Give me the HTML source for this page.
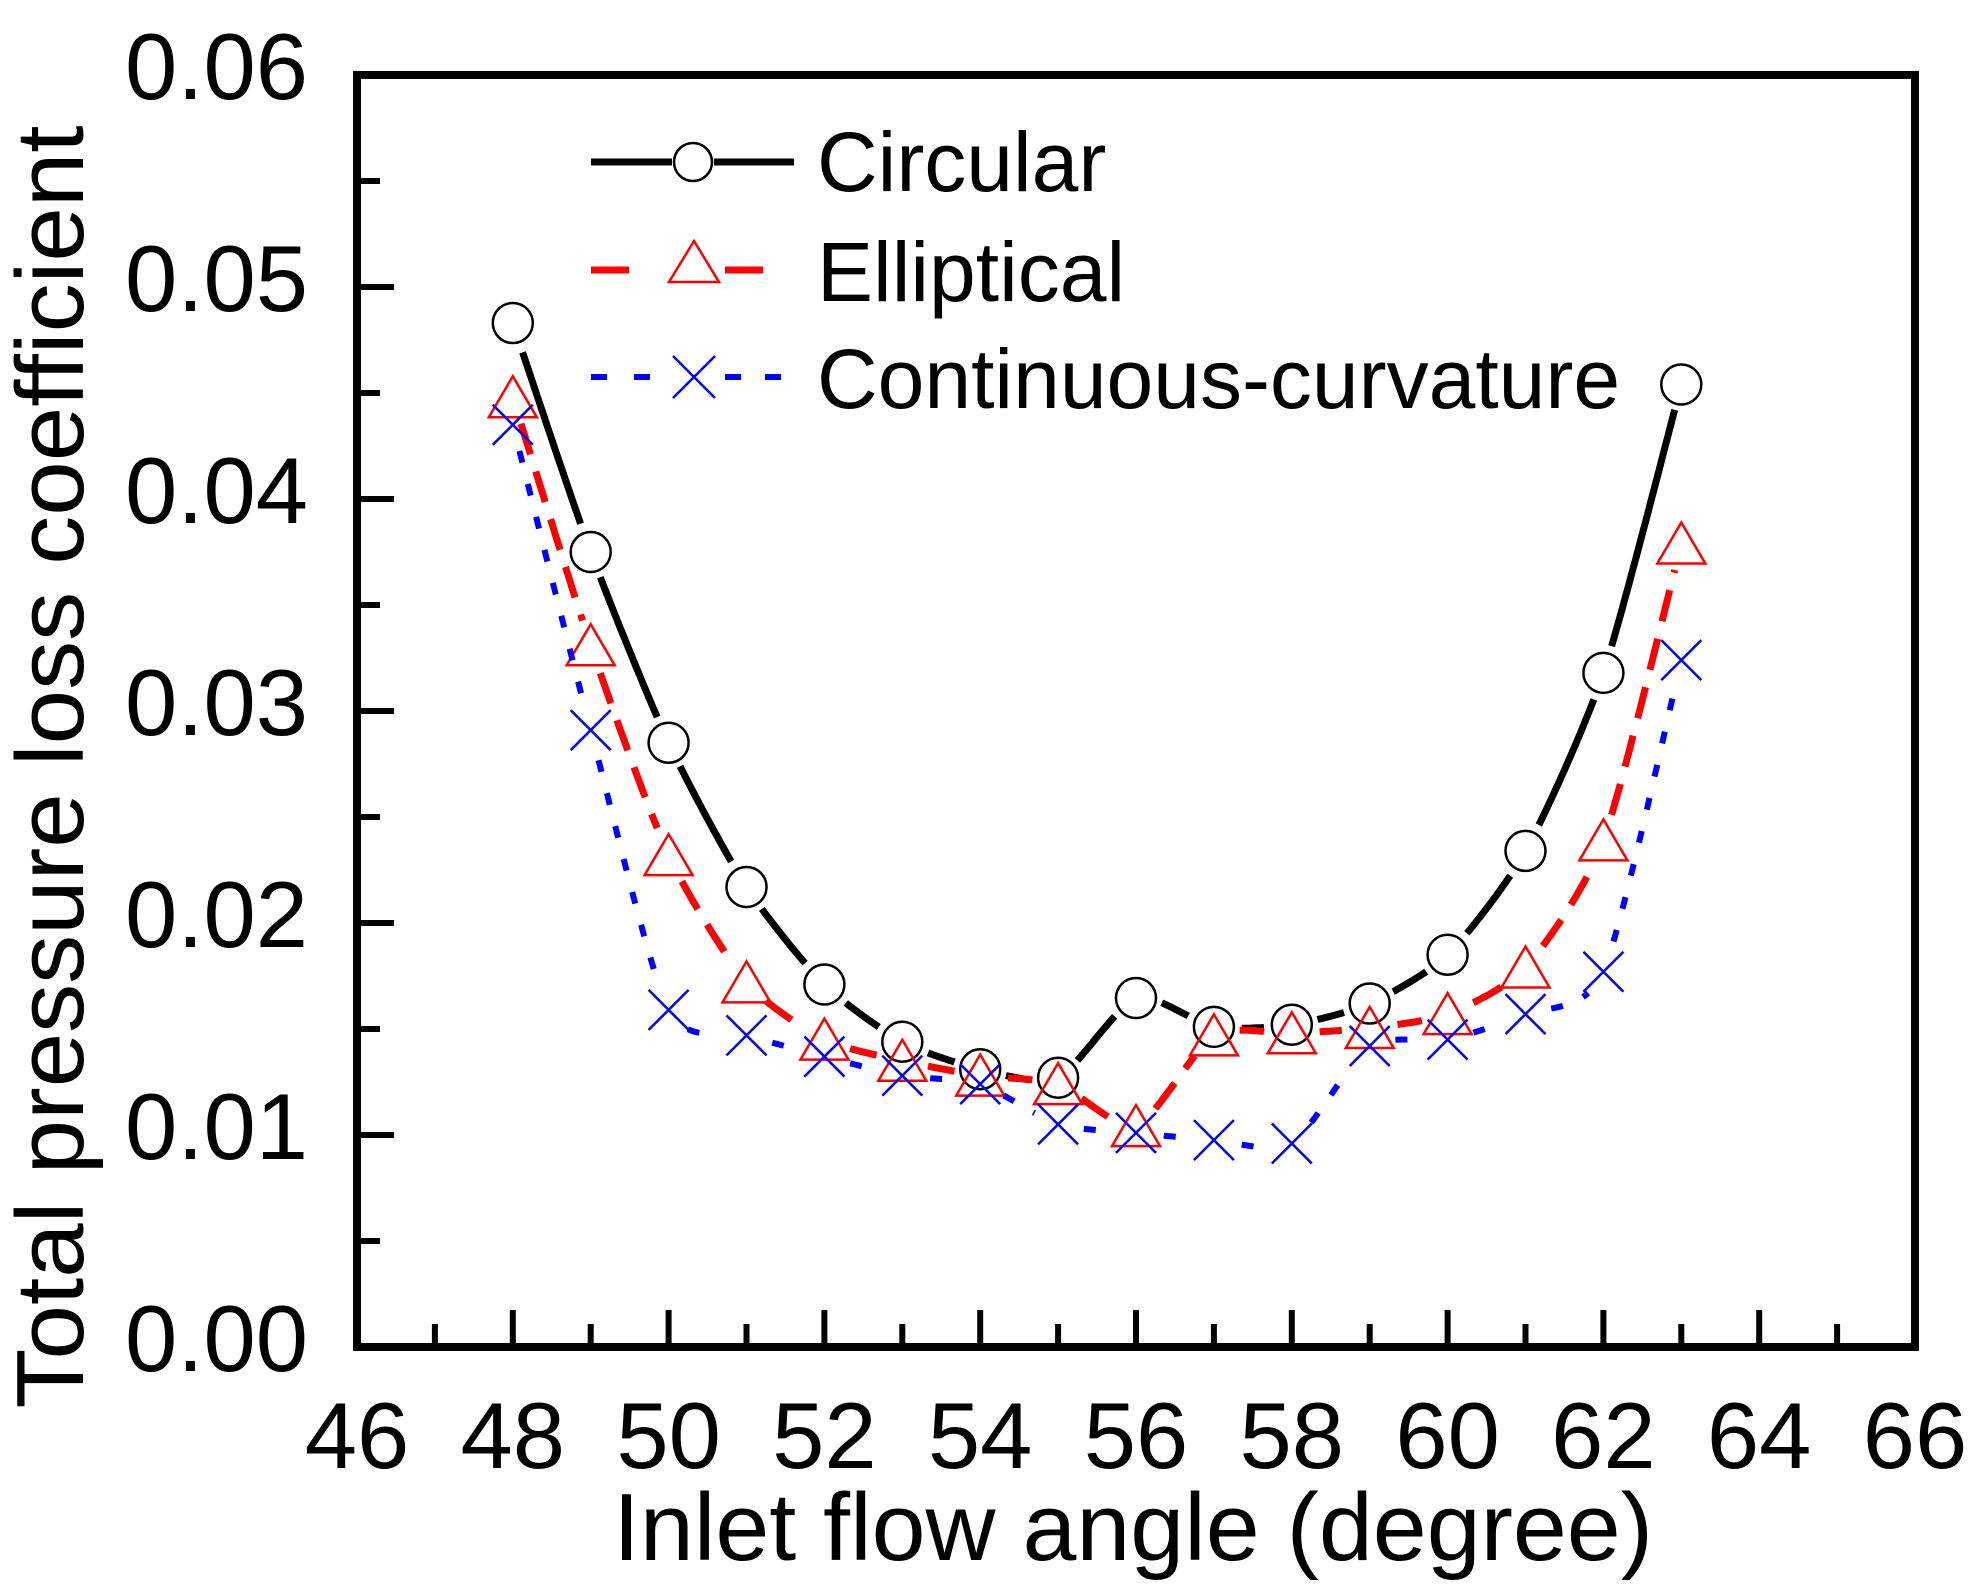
<!DOCTYPE html>
<html><head><meta charset="utf-8"><style>
html,body{margin:0;padding:0;background:#fff;}
svg{display:block;}
text{font-family:"Liberation Sans",Arial,sans-serif;fill:#000;}
</style></head><body>
<svg id="s" width="1972" height="1594" viewBox="0 0 1972 1594" xmlns="http://www.w3.org/2000/svg">
<rect x="0" y="0" width="1972" height="1594" fill="#fff"/>
<g id="series"></g>
<rect x="357" y="75" width="1558" height="1272" fill="none" stroke="#000" stroke-width="8"/>
<g id="ticks" stroke="#000" stroke-width="6"></g>
<g id="labels" font-size="94"></g>
<text x="1133" y="1560" font-size="96" text-anchor="middle" textLength="1040" lengthAdjust="spacingAndGlyphs">Inlet flow angle (degree)</text>
<text transform="translate(83,767) rotate(-90)" font-size="96" text-anchor="middle" textLength="1283" lengthAdjust="spacingAndGlyphs">Total pressure loss coefficient</text>
<!-- legend -->
<line x1="591" y1="162" x2="672" y2="162" stroke="#000" stroke-width="7"/>
<line x1="714" y1="162" x2="794" y2="162" stroke="#000" stroke-width="7"/>
<circle cx="693" cy="162" r="19" fill="none" stroke="#000" stroke-width="2.5"/>
<text x="817" y="191" font-size="84">Circular</text>
<line x1="591" y1="270" x2="629" y2="270" stroke="#f00" stroke-width="7"/>
<line x1="725" y1="270" x2="763" y2="270" stroke="#f00" stroke-width="7"/>
<polygon points="694,241 669,282 719,282" fill="none" stroke="#f00" stroke-width="2.5"/>
<text x="817" y="301" font-size="84">Elliptical</text>
<g stroke="#00f" stroke-width="6"><line x1="591" y1="377" x2="607" y2="377"/><line x1="634" y1="377" x2="650" y2="377"/><line x1="725" y1="377" x2="741" y2="377"/><line x1="765" y1="377" x2="781" y2="377"/></g>
<g stroke="#00f" stroke-width="2.5"><line x1="673" y1="356" x2="715" y2="398"/><line x1="715" y1="356" x2="673" y2="398"/></g>
<text x="817" y="408" font-size="84">Continuous-curvature</text>
</svg>
<script>
(function(){
var NS="http://www.w3.org/2000/svg";
function X(v){return 357+(v-46)*77.9;}
function Y(v){return 1347-v*21200;}
function el(t,a,p){var e=document.createElementNS(NS,t);for(var k in a)e.setAttribute(k,a[k]);p.appendChild(e);return e;}
var tk=document.getElementById('ticks'),lb=document.getElementById('labels');
for(var v=46;v<=66;v++){var x=X(v),maj=(v%2==0);
 el('line',{x1:x,y1:1347,x2:x,y2:1347-(maj?37:23)},tk);
 if(maj){var t=el('text',{x:x,y:1468,'text-anchor':'middle'},lb);t.textContent=v;}}
for(var i=0;i<=12;i++){var val=i*0.005,y=Y(val),maj=(i%2==0);
 el('line',{x1:357,y1:y,x2:357+(maj?37:23),y2:y},tk);
 if(maj){var t=el('text',{x:308,y:y+24,'text-anchor':'end'},lb);t.textContent=val.toFixed(2);}}
var xs=[];for(var a=48;a<=63;a++)xs.push(a);
var S=[
 {c:'#000',w:7,d:null,m:'o',v:[0.0483,0.0375,0.0285,0.0217,0.0171,0.0144,0.0131,0.0127,0.01646,0.0151,0.0152,0.0162,0.0185,0.0234,0.0318,0.0454]},
 {c:'#f00',w:7,d:'32 18',m:'t',v:[0.0448,0.0331,0.0232,0.0172,0.0145,0.0135,0.0128,0.0124,0.01042,0.0147,0.0148,0.01505,0.0157,0.0179,0.0239,0.0379]},
 {c:'#00f',w:6,d:'12 22',m:'x',v:[0.0435,0.0291,0.0159,0.0147,0.0137,0.0128,0.0124,0.0105,0.0101,0.00976,0.0096,0.0142,0.0145,0.0157,0.0177,0.0324]}
];
var g=document.getElementById('series');
S.forEach(function(s){
 var P=xs.map(function(a,i){return [X(a),Y(s.v[i])];});
 var n=P.length,gap=26;
 for(var i=0;i<n-1;i++){
  var p0=P[Math.max(0,i-1)],p1=P[i],p2=P[i+1],p3=P[Math.min(n-1,i+2)];
  var pts=[];
  for(var k=0;k<=40;k++){var t=k/40,t2=t*t,t3=t2*t,ten=0.35;
   var m1x=ten*(p2[0]-p0[0]),m1y=ten*(p2[1]-p0[1]),m2x=ten*(p3[0]-p1[0]),m2y=ten*(p3[1]-p1[1]);
   var h1=2*t3-3*t2+1,h2=t3-2*t2+t,h3=-2*t3+3*t2,h4=t3-t2;
   var x=h1*p1[0]+h2*m1x+h3*p2[0]+h4*m2x,y=h1*p1[1]+h2*m1y+h3*p2[1]+h4*m2y;
   var d1=Math.hypot(x-p1[0],y-p1[1]),d2=Math.hypot(x-p2[0],y-p2[1]);
   if(d1>gap&&d2>gap)pts.push(x.toFixed(1)+','+y.toFixed(1));}
  if(pts.length>1){var a={points:pts.join(' '),fill:'none',stroke:s.c,'stroke-width':s.w,'stroke-linejoin':'round'};if(s.d)a['stroke-dasharray']=s.d;el('polyline',a,g);}
 }
 P.forEach(function(p){
  if(s.m=='o')el('circle',{cx:p[0],cy:p[1],r:20,fill:'none',stroke:s.c,'stroke-width':2.5},g);
  else if(s.m=='t')el('polygon',{points:p[0]+','+(p[1]-21)+' '+(p[0]-24)+','+(p[1]+20)+' '+(p[0]+24)+','+(p[1]+20),fill:'none',stroke:s.c,'stroke-width':2.5},g);
  else{el('line',{x1:p[0]-20,y1:p[1]-20,x2:p[0]+20,y2:p[1]+20,stroke:s.c,'stroke-width':2.5},g);el('line',{x1:p[0]+20,y1:p[1]-20,x2:p[0]-20,y2:p[1]+20,stroke:s.c,'stroke-width':2.5},g);}
 });
});
})();
</script>
</body></html>
